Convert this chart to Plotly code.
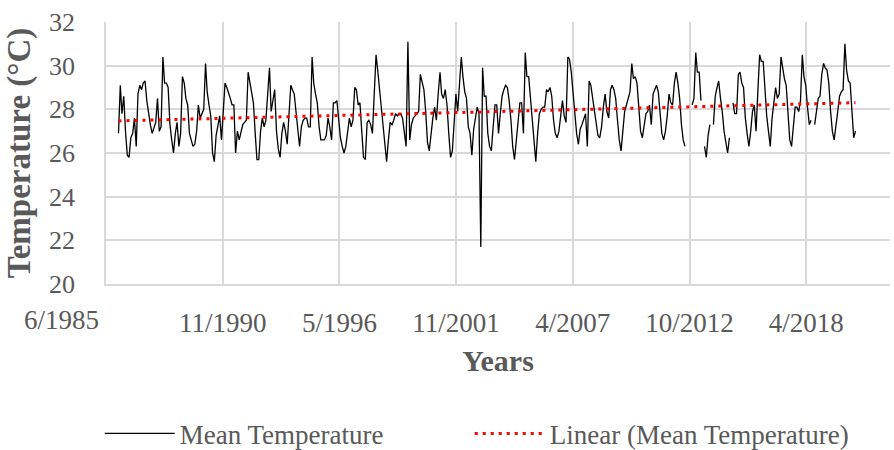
import numpy as np
import pandas as pd
import plotly.graph_objects as go

# Monthly mean temperature (°C), Jan 1986 .. Aug 2020; None = missing month
temp_1986_1990 = [
    26.9, 29.1, 27.8, 28.6, 27.0, 25.9, 25.8, 26.7, 26.9, 27.6, 26.3, 28.7,
    29.1, 28.9, 29.2, 29.3, 28.4, 27.7, 27.3, 26.9, 27.2, 27.4, 28.5, 27.0,
    27.2, 30.4, 29.2, 29.2, 29.0, 27.3, 26.6, 26.0, 26.9, 27.4, 26.3, 26.9,
    29.5, 29.2, 28.5, 28.2, 26.9, 26.6, 26.3, 26.4, 27.0, 28.2, 27.6, 27.8,
    28.0, 30.1, 28.8, 28.2, 27.7, 26.0, 25.6, 26.8, 27.3, 27.7, 26.6, 28.1,
]
temp_1991_1995 = [
    29.2, 29.0, 28.8, 28.5, 28.2, 28.2, 26.0, 27.0, 26.6, 27.0, 27.3, 27.4,
    27.5, 29.7, 29.2, 28.7, 28.3, 26.9, 25.7, 25.7, 27.0, 27.6, 27.2, 27.5,
    28.8, 29.9, 27.9, 28.4, 28.9, 27.0, 26.2, 25.8, 26.9, 27.4, 27.0, 26.4,
    27.9, 29.1, 28.9, 28.7, 27.9, 27.0, 26.3, 27.2, 27.5, 27.6, 27.6, 27.2,
    27.2, 30.4, 29.2, 28.7, 28.3, 27.2, 26.6, 26.6, 26.6, 26.8, 27.6, 27.2,
]
temp_1996_2000 = [
    26.6, 28.3, 28.3, 28.4, 27.5, 26.7, 26.3, 26.0, 26.3, 26.9, 27.6, 27.2,
    27.5, 29.0, 28.9, 28.2, 28.3, 27.0, 25.8, 25.7, 27.4, 27.5, 27.3, 26.9,
    28.5, 30.5, 29.8, 29.0, 27.9, 27.2, 26.4, 25.6, 26.6, 27.4, 27.3, 27.5,
    27.8, 27.7, 27.8, 27.8, 27.6, 27.0, 26.3, 31.1, 26.6, 27.3, 27.6, 27.7,
    27.8, 27.9, 29.6, 29.3, 28.9, 27.9, 26.5, 26.1, 26.9, 27.6, 28.1, 27.5,
]
temp_2001_2005 = [
    28.7, 29.7, 28.7, 28.5, 28.9, 28.2, 26.9, 25.8, 26.1, 27.6, 28.7, 27.9,
    29.0, 30.4, 29.5, 28.8, 28.5, 27.2, 26.9, 25.9, 27.1, 27.7, 28.1, 27.8,
    21.7, 29.9, 28.6, 28.6, 26.9, 26.3, 26.1, 27.2, 28.2, 28.2, 26.9, 27.8,
    28.6, 28.9, 29.1, 29.0, 28.4, 27.5, 26.3, 25.7, 26.7, 27.6, 28.3, 28.3,
    26.9, 30.6, 29.5, 29.5, 28.5, 27.5, 26.4, 25.6, 26.9, 27.8, 28.0, 28.1,
]
temp_2006_2010 = [
    28.1, 28.9, 28.8, 29.0, 28.6, 27.5, 26.9, 26.7, 27.0, 27.6, 28.4, 27.7,
    27.4, 30.4, 30.3, 29.7, 28.7, 27.6, 26.9, 26.4, 27.1, 27.3, 27.6, 27.8,
    26.3, 29.3, 29.1, 28.5, 27.9, 27.2, 26.8, 26.7, 27.2, 28.1, 28.7, 27.9,
    27.6, 28.9, 29.1, 28.9, 28.5, 27.5, 26.6, 26.1, 26.9, 27.9, 28.2, 28.5,
    28.8, 30.1, 29.4, 29.5, 29.2, 28.1, 27.0, 26.7, 27.3, 27.8, 27.9, 28.2,
]
temp_2011_2015 = [
    27.3, 28.7, 28.9, 29.1, 28.8, 27.6, 26.9, 26.6, 27.0, 27.7, 28.7, 28.3,
    28.2, 29.2, 29.7, 29.2, 28.5, 27.3, 26.6, 26.3, None, None, None, 28.2,
    28.5, 30.6, 29.7, 29.7, 28.4, None, 26.3, 25.8, 26.8, 27.3, None, 27.3,
    28.6, 29.0, 29.3, 28.5, 27.9, 27.0, 26.5, 26.0, 26.7, None, 28.3, 27.8,
    27.8, 29.6, 29.7, 29.2, 29.0, 27.6, 26.9, 26.3, 27.0, 27.9, 28.2, 27.0,
]
temp_2016_2020 = [
    28.8, 30.5, 30.2, 30.2, 29.0, 27.7, 27.0, 26.3, 27.6, 28.4, 29.0, 28.5,
    28.7, 30.4, 29.8, 29.4, 29.1, 27.8, 26.6, 26.3, 27.3, 28.1, 28.1, 27.9,
    28.4, 30.5, 29.5, 29.1, 28.1, 27.3, 27.5, None, 27.3, 27.9, 28.5, 28.6,
    29.6, 30.1, 29.9, 29.8, 29.2, 27.9, 27.0, 26.6, 27.4, 27.9, 28.6, 28.8,
    28.9, 31.0, 29.8, 29.3, 29.2, 27.9, 26.7, 27.0,
]

temps = (temp_1986_1990 + temp_1991_1995 + temp_1996_2000 + temp_2001_2005
         + temp_2006_2010 + temp_2011_2015 + temp_2016_2020)
first_month = "1986-01-01"
dates = pd.date_range(first_month, periods=len(temps), freq="MS")

# Excel-style date axis: starts 6/1985, major unit 2000 days
axis_start = pd.Timestamp("1985-06-01")
axis_end = pd.Timestamp("2022-03-15")
tick_labels = ["6/1985", "11/1990", "5/1996", "11/2001", "4/2007", "10/2012", "4/2018"]
tick_step_days = 2000
tick_dates = [axis_start + pd.Timedelta(days=tick_step_days * i) for i in range(len(tick_labels))]
# the first label sits to the left of its gridline in the reference (drawn as annotation)
tick_text = [""] + tick_labels[1:]

y_ticks = [20, 22, 24, 26, 28, 30, 32]

# Linear trendline (least squares on date serial)
s = pd.Series(temps, index=dates, dtype="float").dropna()
xd = (s.index - dates[0]).days.values.astype(float)
slope, intercept = np.polyfit(xd, s.values, 1)
x_end = float((dates[-1] - dates[0]).days)
trend_x = [dates[0], dates[-1]]
trend_y = [intercept, intercept + slope * x_end]

FONT = "Liberation Serif"
GREY = "#595959"
GRID = "#d9d9d9"

fig = go.Figure()
fig.add_trace(go.Scatter(
    x=dates, y=temps, mode="lines", name="Mean Temperature",
    line=dict(color="black", width=1.3), connectgaps=False,
    legendwidth=285,
))
fig.add_trace(go.Scatter(
    x=trend_x, y=trend_y, mode="lines", name="Linear (Mean Temperature)",
    line=dict(color="#ff0000", width=3, dash="3px,5px"),
    legendwidth=330,
))

fig.add_annotation(
    x=tick_dates[0], xref="x", y=0, yref="paper",
    text=tick_labels[0], showarrow=False,
    xanchor="right", yanchor="middle", xshift=-5, yshift=-36,
    font=dict(family=FONT, size=27, color=GREY),
)

fig.update_layout(
    width=894, height=450,
    margin=dict(l=106, r=4, t=22, b=166, autoexpand=False),
    paper_bgcolor="white", plot_bgcolor="white",
    font=dict(family=FONT, color=GREY, size=26),
    showlegend=True,
    legend=dict(
        orientation="h", x=-0.008, xanchor="left", y=-0.572, yanchor="middle",
        font=dict(family=FONT, size=27, color=GREY),
        itemwidth=70, entrywidthmode="pixels",
        bgcolor="rgba(0,0,0,0)", borderwidth=0,
    ),
)
fig.update_xaxes(
    type="date", range=[axis_start, axis_end],
    tickmode="array", tickvals=tick_dates, ticktext=tick_text, tickangle=0,
    showgrid=True, gridcolor=GRID, gridwidth=1.5,
    showline=True, linecolor=GRID, linewidth=1.5,
    ticks="", ticklabelstandoff=14, automargin=False,
    tickfont=dict(family=FONT, size=27, color=GREY),
    title=dict(text="\u00a0\u00a0Years", font=dict(family=FONT, size=30, color=GREY, weight="bold"), standoff=13),
    zeroline=False,
)
fig.update_yaxes(
    range=[20, 32], tickmode="array", tickvals=y_ticks,
    showgrid=True, gridcolor=GRID, gridwidth=1.5,
    showline=True, linecolor=GRID, linewidth=1.5,
    ticks="", ticklabelstandoff=24, automargin=False,
    tickfont=dict(family=FONT, size=26, color=GREY),
    title=dict(text="Temperature (°C)", font=dict(family=FONT, size=33, color=GREY, weight="bold"), standoff=8),
    zeroline=False,
)

fig.write_html("out.html")
